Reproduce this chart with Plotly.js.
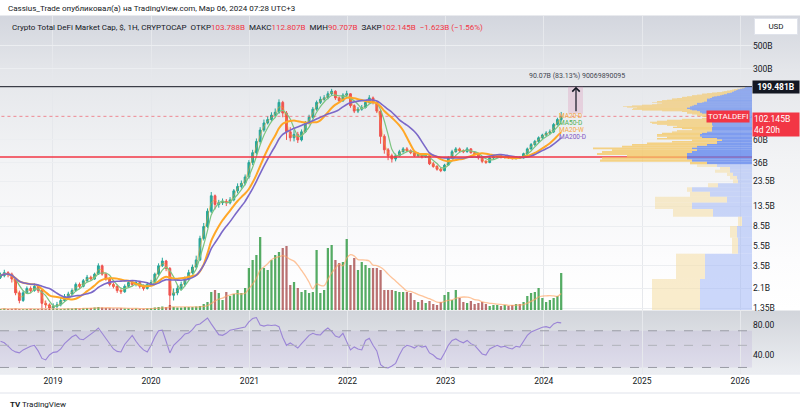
<!DOCTYPE html>
<html><head><meta charset="utf-8">
<script src="https://cdn.plot.ly/plotly-3.0.1.min.js"></script>
<style>
html,body{margin:0;padding:0;background:#fff;}
#wrap{position:relative;width:800px;height:415px;background:linear-gradient(to bottom,#fff 0px,#fff 15px,#d3d6de 16px,#e4e6ea 70px,#f2f3f5 160px,#fcfcfd 260px,#fff 310px,#d2d5db 311px,#eceef2 373px,#fff 374px,#fff 415px);}
#chart{width:800px;height:415px;}
</style></head><body><div id="wrap"><div id="chart"></div></div>
<script>
// ---------- DATA ----------
const startDate = '2018-06-20';   // first bar (bi-weekly bars)
const stepDays = 14;
const firstOpen = 2.7;
const close = [2.8,3.0,2.9,2.6,1.9,1.6,1.9,2.1,2.0,2.2,
 2.0,1.5,1.45,1.35,1.4,1.45,1.6,1.75,1.85,2.0,
 2.3,2.2,2.5,2.7,2.6,2.9,3.5,2.9,2.6,2.3,
 2.2,2.0,1.95,2.2,2.4,2.3,2.4,2.2,2.1,2.3,
 2.4,2.9,3.5,3.9,3.3,1.8,1.9,2.1,2.3,2.6,
 3.0,3.4,4.0,6.5,8.5,12.0,17.0,14.0,14.5,15.0,
 14.5,15.5,19.0,21.0,22.5,26.0,36.0,45.0,58.0,75.0,
 88.0,95.0,105.0,112.0,140.0,110.0,72.0,63.0,68.0,60.0,
 72.0,88.0,100.0,120.0,140.0,150.0,155.0,170.0,180.0,155.0,
 145.0,165.0,170.0,130.0,115.0,120.0,125.0,140.0,155.0,140.0,
 115.0,65.0,48.0,42.0,39.0,42.0,46.0,49.0,47.0,45.0,
 42.0,43.0,41.0,42.0,35.0,33.0,31.0,30.0,34.0,40.0,
 46.0,49.0,47.0,46.0,49.0,45.0,44.0,40.0,37.0,36.0,
 40.0,41.0,42.0,40.5,41.0,40.0,39.5,40.5,40.0,44.0,
 49.0,54.0,58.0,63.0,67.0,70.0,72.0,85.0,95.0,102.145];
const high = [3.0,3.2,3.1,3.0,2.7,2.0,2.0,2.2,2.2,2.35,
 2.3,2.05,1.6,1.5,1.5,1.55,1.7,1.85,1.95,2.1,
 2.4,2.4,2.6,2.85,2.8,3.0,3.7,3.6,3.0,2.7,
 2.4,2.3,2.1,2.3,2.5,2.5,2.5,2.45,2.3,2.4,
 2.55,3.0,3.7,4.2,4.0,3.4,2.1,2.25,2.45,2.75,
 3.2,3.6,4.4,6.9,9.2,12.8,18.5,17.5,15.5,16.0,
 15.8,16.5,19.8,22.5,24.0,27.5,38.0,48.0,62.0,80.0,
 95.0,102.0,112.0,122.0,150.0,145.0,115.0,80.0,75.0,72.0,
 76.0,92.0,106.0,126.0,146.0,160.0,165.0,180.0,190.0,184.0,
 160.0,172.0,182.0,172.0,134.0,126.0,132.0,146.0,165.0,160.0,
 143.0,118.0,68.0,50.0,44.0,44.0,48.0,51.0,51.0,48.5,
 46.0,45.0,44.0,43.5,43.0,36.5,34.0,32.0,35.0,41.5,
 48.0,51.0,50.5,48.5,51.0,50.0,46.5,45.0,41.0,38.0,
 41.0,42.5,43.5,43.0,42.0,42.0,41.0,41.5,41.5,45.0,
 50.5,56.0,60.0,65.0,69.0,73.0,76.0,88.0,99.0,112.807];
const low = [2.6,2.7,2.7,2.4,1.8,1.5,1.55,1.85,1.9,1.95,
 1.9,1.35,1.35,1.25,1.28,1.33,1.4,1.55,1.7,1.8,
 1.95,2.1,2.15,2.4,2.5,2.55,2.85,2.8,2.5,2.2,
 2.1,1.9,1.85,1.9,2.15,2.2,2.2,2.1,2.0,2.05,
 2.25,2.35,2.8,3.4,3.1,1.3,1.6,1.8,2.0,2.2,
 2.5,2.9,3.3,3.9,6.2,8.2,11.5,12.5,13.0,13.8,
 13.5,14.0,15.0,18.0,20.0,21.5,25.0,34.0,43.0,55.0,
 72.0,85.0,90.0,100.0,108.0,100.0,60.0,58.0,58.0,56.0,
 58.0,70.0,85.0,97.0,116.0,135.0,145.0,150.0,165.0,148.0,
 138.0,142.0,160.0,124.0,110.0,110.0,116.0,122.0,136.0,134.0,
 110.0,55.0,44.0,38.0,36.0,37.0,41.0,45.0,45.5,43.5,
 41.0,41.0,39.5,40.0,34.0,32.0,30.0,29.0,29.5,33.5,
 39.0,45.0,45.5,44.5,45.0,44.0,42.5,38.5,35.5,35.0,
 35.5,39.0,40.0,39.5,39.5,39.0,38.5,38.5,39.0,39.5,
 43.0,48.0,52.0,56.0,61.0,65.0,68.0,70.0,83.0,90.707];
const volume = [0.1,0.15,0.1,0.12,0.15,0.1,0.08,0.1,0.12,0.1,
 0.1,0.15,0.12,0.1,0.08,0.1,0.1,0.12,0.15,0.15,
 0.2,0.15,0.18,0.2,0.2,0.25,0.3,0.25,0.2,0.18,
 0.15,0.15,0.18,0.15,0.15,0.12,0.15,0.12,0.12,0.15,
 0.18,0.25,0.3,0.35,0.3,0.5,0.3,0.25,0.25,0.3,
 0.3,0.3,0.35,0.4,0.6,0.8,1.8,2.0,1.7,1.0,
 1.8,1.4,1.6,2.0,1.7,2.2,4.2,5.0,5.5,7.3,
 4.2,4.0,5.0,5.5,5.8,6.2,6.4,2.5,2.8,2.2,
 1.8,2.0,1.7,1.8,6.0,1.7,2.0,6.2,6.5,5.0,
 4.7,4.8,7.1,4.5,5.2,4.0,4.8,4.5,4.2,4.2,
 4.2,4.0,2.0,2.0,2.0,1.9,1.8,1.8,1.8,1.7,
 1.0,0.8,1.0,0.7,0.9,0.6,0.5,0.8,1.5,1.8,
 1.0,2.0,1.2,0.8,0.7,0.9,0.6,0.7,0.8,0.6,
 0.4,0.5,0.5,0.4,0.5,0.4,0.5,0.6,0.6,0.8,
 1.4,1.7,1.8,2.2,1.2,0.8,1.0,1.2,1.4,3.7];
const rsi = [55,53,49,45,43,42,45,47,49,50,
 44,37,35.7,40,42.5,43,46,52,57,61,
 63.5,58,57,60.6,64,69,74.6,66,59,52,
 46,43.5,42.9,51,57,63,55,49,45,42.9,
 50,60.6,70,71,55,42,50,54,59,65,
 66.5,72,80,82,87,94,82,71.3,64,63,
 66,71,72,73,75,76.4,86,93,95,80,
 78,80,79,80,77,60,50,52.8,50,47,
 52,56.6,63,66,64,63.5,70,74.6,69,62,
 60,66,55,45,48.2,46,45,56,59,50,
 44,32,30,29.7,31,33,40,47,50,49,
 47,50,48,49,42,40,37,36,42,50,
 56,58,55,53,56,52,50,45,41,40,
 46,48,50,48,49,47,46,49,48,55,
 63,68,71,74,76,77,75,82,85,84];
// visible-range volume profile: rows of 2B starting at 0.6B
const vpRowStart = 0.6, vpRowSize = 2, vpValueAreaFrom = 17;
const vpUp = [5.2,4.7,1.4,1.5,1.0,3.9,6.0,2.5,4.2,6.0,
 3.4,1.4,1.5,1.9,2.2,2.2,3.5,4.5,6.0,6.5,
 6.5,6.5,6.0,5.5,6.0,5.5,4.5,3.5,3.5,3.0,
 3.5,5.0,5.2,5.2,5.0,4.5,4.0,4.0,4.0,4.0,
 3.9,4.0,4.0,4.0,4.0,4.0,4.2,4.0,3.5,3.5,
 3.5,3.8,4.0,4.5,5.0,5.2,5.2,5.5,6.0,6.2,
 6.5,6.5,6.2,6.2,6.0,5.8,5.5,5.5,5.5,5.0,
 4.8,4.5,4.5,4.5,4.5,4.5,4.2,4.0,4.0,3.8,
 3.5,3.2,3.0,2.8,2.5,2.5,2.2,2.0,2.0,1.8,
 1.8,1.6,1.5,1.4,1.2,1.0,0.8,0.7,0.5];
const vpDown = [4.8,2.9,0.6,0.7,0.4,4.0,3.7,7.2,2.0,0.5,
 1.0,0.5,0.7,0.6,1.5,1.0,2.0,1.7,9.2,8.5,
 6.0,9.0,9.0,8.5,9.9,7.5,7.5,7.0,4.5,3.0,
 6.0,3.5,4.3,4.3,4.0,3.5,3.5,2.0,3.0,3.9,
 3.6,4.5,5.5,6.0,6.2,5.5,4.3,3.0,1.5,1.0,
 1.5,1.7,1.5,1.5,1.5,1.3,1.8,3.5,5.0,5.8,
 5.4,5.0,6.3,6.7,6.0,5.2,4.5,4.0,3.5,5.0,
 4.7,5.0,4.5,4.0,3.5,3.5,3.3,3.0,3.0,2.7,
 2.5,2.8,2.5,2.2,2.5,2.0,1.8,1.5,1.0,1.0,
 0.7,0.6,0.5,0.4,0.3,0.2,0.2,0.1,0.0];
const levelTop = 199.481, levelLast = 102.145, levelSupport = 40.8, measureBase = 108.35;
const yTickVals = [500,300,60,36,23.5,13.5,8.5,5.5,3.5,2.1,1.35];
const yTickText = ['500B','300B','60B','36B','23.5B','13.5B','8.5B','5.5B','3.5B','2.1B','1.35B'];
const rsiTickVals = [80,40];
const maSpecs = [
  {name:'MA20-D', period:2,  color:'rgba(245,166,35,0.55)', width:1, label:'#f5a742'},
  {name:'MA50-D', period:4,  color:'#7cc47f', width:1.2, label:'#4caf50'},
  {name:'MA20-W', period:10, color:'#ffa726', width:2, label:'#f5a742'},
  {name:'MA200-D',period:14, color:'#7b68c8', width:1.6, label:'#7e57c2'}
];

// ---------- HELPERS ----------
function makeDates(n){const t0=Date.parse(startDate+'T00:00:00Z');const o=[];for(let i=0;i<n;i++)o.push(new Date(t0+i*stepDays*864e5).toISOString().slice(0,10));return o;}
function sma(a,n){return a.map((v,i)=>{const s=Math.max(0,i-n+1);let t=0;for(let j=s;j<=i;j++)t+=a[j];return t/(i-s+1);});}
const N = close.length;
const dates = makeDates(N);
const open = [firstOpen].concat(close.slice(0,N-1));
const farDate = '2026-03-01';
const L10 = Math.log10;
const PX = px => px/800;              // paper x from pixel
const PY = py => (374-py)/358;        // paper y from pixel

const traces = [];
traces.push({type:'candlestick',x:dates,open:open,high:high,low:low,close:close,xaxis:'x',yaxis:'y',
  increasing:{line:{color:'#26a69a',width:1},fillcolor:'#26a69a'},
  decreasing:{line:{color:'#ef5350',width:1},fillcolor:'#ef5350'},whiskerwidth:0,hoverinfo:'skip'});
maSpecs.forEach(m=>traces.push({type:'scatter',mode:'lines',x:dates,y:sma(close,m.period),xaxis:'x',yaxis:'y',
  line:{color:m.color,width:m.width,shape:'spline',smoothing:0.6},hoverinfo:'skip'}));
// level lines
traces.push({type:'scatter',mode:'lines',x:['2018-06-01',farDate],y:[levelTop,levelTop],line:{color:'#131722',width:1},hoverinfo:'skip'});
traces.push({type:'scatter',mode:'lines',x:['2018-06-01',farDate],y:[levelSupport,levelSupport],line:{color:'#f23645',width:1.6},hoverinfo:'skip'});
traces.push({type:'scatter',mode:'lines',x:['2018-06-01',farDate],y:[levelLast,levelLast],line:{color:'rgba(242,54,69,0.55)',width:1,dash:'dot'},hoverinfo:'skip'});
// volume
traces.push({type:'bar',x:dates,y:volume,xaxis:'x',yaxis:'y3',width:stepDays*864e5*0.6,
  marker:{color:close.map((c,i)=>c>=open[i]?'rgba(20,140,40,0.72)':'rgba(150,40,40,0.66)'),line:{width:0}},hoverinfo:'skip'});
traces.push({type:'scatter',mode:'lines',x:dates,y:sma(volume,7),xaxis:'x',yaxis:'y3',line:{color:'rgba(255,165,100,0.65)',width:1.3,shape:'spline'},hoverinfo:'skip'});
// volume profile
const vpLo = vpUp.map((_,k)=>vpRowStart+k*vpRowSize), vpHi = vpLo.map(v=>v+vpRowSize);
const vpC = vpLo.map((lo,k)=>(L10(lo)+L10(vpHi[k]))/2), vpW = vpLo.map((lo,k)=>L10(vpHi[k])-L10(lo));
traces.push({type:'bar',orientation:'h',y:vpC,x:vpUp,width:vpW,base:0,xaxis:'x2',yaxis:'y4',
  marker:{color:vpUp.map((_,k)=>k>=vpValueAreaFrom?'rgba(88,128,238,0.75)':'rgba(160,182,246,0.55)'),line:{width:0}},hoverinfo:'skip'});
traces.push({type:'bar',orientation:'h',y:vpC,x:vpDown,width:vpW,base:vpUp,xaxis:'x2',yaxis:'y4',
  marker:{color:vpUp.map((_,k)=>k>=vpValueAreaFrom?'rgba(245,200,100,0.78)':'rgba(245,224,170,0.6)'),line:{width:0}},hoverinfo:'skip'});
// RSI
traces.push({type:'scatter',mode:'lines',x:dates,y:rsi,xaxis:'x',yaxis:'y2',line:{color:'#9b85d6',width:1.1},hoverinfo:'skip'});

const yRange=[0.1108,2.993];
const layout = {
  width:800,height:415,margin:{l:0,r:0,t:16,b:41},
  paper_bgcolor:'rgba(0,0,0,0)',plot_bgcolor:'rgba(0,0,0,0)',showlegend:false,barmode:'overlay',
  font:{family:'Roboto, sans-serif',size:8,color:'#131722'},
  xaxis:{type:'date',domain:[0,0.94],range:['2018-06-18','2026-02-14'],anchor:'y2',rangeslider:{visible:false},
    showgrid:true,gridcolor:'#e6e8ec',tickformat:'%Y',dtick:'M12',tick0:'2019-01-01',ticks:'',
    tickfont:{size:8.5,color:'#131722'},zeroline:false,showline:false,fixedrange:true},
  yaxis:{type:'log',domain:[0.17877,1],range:yRange,side:'right',anchor:'x',tickvals:yTickVals,ticktext:yTickText,
    showgrid:true,gridcolor:'#eceef1',ticks:'',zeroline:false,tickfont:{size:8.5}},
  yaxis2:{type:'log',domain:[0,0.17598],range:[L10(25.8),L10(110.5)],side:'right',anchor:'x',tickvals:rsiTickVals,
    ticktext:rsiTickVals.map(v=>v.toFixed(2)),showgrid:false,ticks:'',zeroline:false,tickfont:{size:8.5}},
  yaxis3:{overlaying:'y',range:[0,29.4],visible:false},
  xaxis2:{overlaying:'x',range:[75.2,0],visible:false},
  yaxis4:{overlaying:'y',range:yRange,visible:false},
  shapes:[
    {type:'rect',xref:'paper',yref:'y2',x0:0,x1:0.94,y0:30,y1:70,fillcolor:'rgba(126,87,194,0.1)',line:{width:0},layer:'below'},
    {type:'line',xref:'paper',yref:'y2',x0:0,x1:0.94,y0:70,y1:70,line:{color:'#9a9ca5',width:1,dash:'dash'}},
    {type:'line',xref:'paper',yref:'y2',x0:0,x1:0.94,y0:50,y1:50,line:{color:'#b0b2ba',width:1,dash:'dash'}},
    {type:'line',xref:'paper',yref:'y2',x0:0,x1:0.94,y0:30,y1:30,line:{color:'#9a9ca5',width:1,dash:'dash'}},
    {type:'rect',xref:'paper',yref:'y',x0:PX(568),x1:PX(583),y0:measureBase,y1:levelTop,fillcolor:'rgba(220,140,180,0.28)',line:{width:0}},
    {type:'line',xref:'paper',yref:'paper',x0:0,x1:1,y0:PY(374),y1:PY(374),line:{color:'#e0e3eb',width:1}},
    {type:'line',xref:'paper',yref:'paper',x0:0,x1:1,y0:PY(393),y1:PY(393),line:{color:'#e0e3eb',width:1}}
  ],
  annotations:[
    {xref:'paper',yref:'paper',x:PX(6),y:PY(8),xanchor:'left',yanchor:'middle',showarrow:false,
      text:'Cassius_Trade опубликовал(а) на TradingView.com, Мар 06, 2024 07:28 UTC+3',font:{size:8,color:'#131722'}},
    {xref:'paper',yref:'paper',x:PX(10),y:PY(27),xanchor:'left',yanchor:'middle',showarrow:false,
      text:'Crypto Total DeFi Market Cap, $, 1H, CRYPTOCAP  ОТКР<span style="color:#f23645">103.788B</span>  МАКС<span style="color:#f23645">112.807B</span>  МИН<span style="color:#f23645">90.707B</span>  ЗАКР<span style="color:#f23645">102.145B</span>  <span style="color:#f23645">−1.623B (−1.56%)</span>',font:{size:8,color:'#131722'}},
    {xref:'paper',yref:'paper',x:PX(776),y:PY(26),xanchor:'center',yanchor:'middle',showarrow:false,text:'USD',
      bgcolor:'#ffffff',bordercolor:'#e0e3eb',borderwidth:1,borderpad:3,width:36,font:{size:8}},
    {xref:'paper',yref:'y',x:0.94,y:L10(levelTop),xanchor:'left',yanchor:'middle',showarrow:false,text:'<b>199.481B</b>',
      bgcolor:'#131722',font:{size:8.5,color:'#ffffff'},width:44,borderpad:1},
    {xref:'paper',yref:'y',x:0.94,y:L10(levelLast),xanchor:'left',yanchor:'top',yshift:4,showarrow:false,align:'left',
      text:'102.145B<br>4d 20h',bgcolor:'#f23645',font:{size:8.5,color:'#ffffff'},width:44,borderpad:1},
    {xref:'paper',yref:'y',x:PX(750),y:L10(levelLast),xanchor:'right',yanchor:'middle',showarrow:false,
      text:'TOTALDEFI',bgcolor:'#f23645',font:{size:8,color:'#ffffff'},borderpad:1},
    {xref:'paper',yref:'y',x:PX(576),y:L10(levelTop),ax:0,ay:26,axref:'pixel',ayref:'pixel',showarrow:true,arrowhead:4,arrowsize:1.2,arrowwidth:1.2,arrowcolor:'#131722',text:''},
    {xref:'paper',yref:'paper',x:PX(577),y:PY(76),xanchor:'center',yanchor:'middle',showarrow:false,
      text:'90.07B (83.13%) 90069890095',font:{size:7,color:'#434651'}},
    ...maSpecs.map((m,j)=>({xref:'paper',yref:'paper',x:PX(557),y:PY(115.5+j*7.2),xanchor:'left',yanchor:'middle',showarrow:false,
      text:m.name,font:{size:6.5,color:m.label}})),
    {xref:'paper',yref:'paper',x:PX(8),y:PY(404),xanchor:'left',yanchor:'middle',showarrow:false,
      text:'<b>TV</b> TradingView',font:{size:8,color:'#131722'}}
  ]
};
Plotly.newPlot('chart',traces,layout,{staticPlot:true,displayModeBar:false});
</script></body></html>
